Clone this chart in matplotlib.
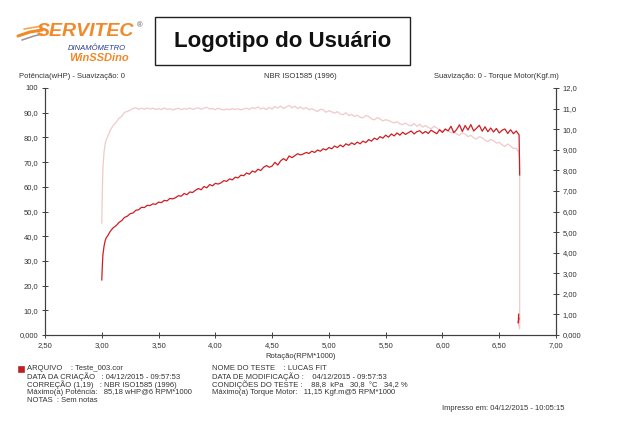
import matplotlib
matplotlib.use("Agg")
import matplotlib.pyplot as plt
import numpy as np

plt.rcParams['font.family'] = ['Liberation Sans', 'DejaVu Sans']

# rotação (RPM*1000)
rpm = [3.000, 3.005, 3.010, 3.020, 3.030, 3.040,
       3.050, 3.075, 3.100, 3.125, 3.150, 3.175, 3.200, 3.225,
       3.250, 3.275, 3.300, 3.325, 3.350, 3.375, 3.400, 3.425,
       3.450, 3.475, 3.500, 3.525, 3.550, 3.575, 3.600, 3.625,
       3.650, 3.675, 3.700, 3.725, 3.750, 3.775, 3.800, 3.825,
       3.850, 3.875, 3.900, 3.925, 3.950, 3.975, 4.000, 4.025,
       4.050, 4.075, 4.100, 4.125, 4.150, 4.175, 4.200, 4.225,
       4.250, 4.275, 4.300, 4.325, 4.350, 4.375, 4.400, 4.425,
       4.450, 4.475, 4.500, 4.525, 4.550, 4.575, 4.600, 4.625,
       4.650, 4.675, 4.700, 4.725, 4.750, 4.775, 4.800, 4.825,
       4.850, 4.875, 4.900, 4.925, 4.950, 4.975, 5.000, 5.025,
       5.050, 5.075, 5.100, 5.125, 5.150, 5.175, 5.200, 5.225,
       5.250, 5.275, 5.300, 5.325, 5.350, 5.375, 5.400, 5.425,
       5.450, 5.475, 5.500, 5.525, 5.550, 5.575, 5.600, 5.625,
       5.650, 5.675, 5.700, 5.725, 5.750, 5.775, 5.800, 5.825,
       5.850, 5.875, 5.900, 5.925, 5.950, 5.975, 6.000, 6.025,
       6.050, 6.075, 6.100, 6.125, 6.150, 6.175, 6.200, 6.225,
       6.250, 6.275, 6.300, 6.325, 6.350, 6.375, 6.400, 6.425,
       6.450, 6.475, 6.500, 6.525, 6.550, 6.575, 6.600, 6.625,
       6.650, 6.675, 6.680]

# potência (wHP)
power = [22.3, 28.0, 32.5, 36.0, 38.2, 39.4,
         40.0, 42.0, 43.4, 44.2, 45.5, 46.3, 47.6, 48.1,
         49.1, 49.4, 50.5, 50.7, 51.7, 51.6, 52.5, 52.4,
         53.1, 52.9, 53.8, 53.6, 54.5, 54.3, 55.3, 55.1,
         55.6, 56.4, 56.2, 57.3, 56.8, 57.9, 57.7, 58.6,
         59.3, 58.8, 60.1, 59.6, 60.9, 60.4, 61.4, 61.1,
         61.6, 62.5, 62.2, 63.2, 62.8, 63.9, 63.6, 64.7,
         64.5, 65.6, 65.1, 66.4, 65.9, 67.1, 66.6, 67.9,
         68.6, 67.9, 68.4, 69.9, 68.8, 70.5, 71.4, 70.6,
         72.5, 71.8, 72.6, 73.4, 72.9, 73.3, 73.9, 73.5,
         74.4, 73.9, 74.9, 74.4, 75.4, 74.9, 75.9, 75.4,
         76.5, 75.9, 76.9, 76.2, 77.4, 76.8, 77.8, 77.1,
         78.1, 77.4, 78.5, 77.9, 79.1, 78.5, 79.7, 79.1,
         80.3, 79.7, 80.9, 80.1, 81.4, 80.6, 81.8, 80.9,
         82.1, 81.2, 81.9, 82.6, 81.4, 82.3, 82.7, 81.6,
         82.4, 81.6, 82.9, 82.2, 81.5, 83.1, 82.0, 83.4,
         82.6, 84.5, 81.9, 83.2, 85.1, 82.4, 84.8, 83.0,
         85.2, 82.6, 83.7, 84.9, 82.5, 84.3, 82.3, 83.8,
         82.2, 83.6, 81.8, 82.9, 83.4, 81.6, 83.1, 81.5,
         82.6, 81.0, 64.8]

# torque motor (Kgf.m)
torque = [5.44, 7.0, 8.1, 8.9, 9.3, 9.5,
          9.6, 9.95, 10.18, 10.32, 10.52, 10.62, 10.82, 10.86,
          10.92, 11.0, 11.04, 10.96, 11.02, 10.97, 11.03, 10.98,
          11.02, 10.96, 11.0, 10.95, 11.03, 10.97, 10.99, 10.94,
          10.98, 11.02, 10.95, 11.0, 10.97, 11.03, 10.96, 11.0,
          11.04, 10.96, 11.02, 11.06, 10.98, 11.0, 10.95, 11.02,
          10.97, 10.93, 10.98, 10.95, 11.0, 10.96, 10.99, 10.94,
          10.98, 11.02, 10.96, 11.05, 11.0, 11.08, 10.98, 11.04,
          10.95, 11.06, 10.98, 11.1, 11.02, 11.12, 11.0, 11.08,
          11.15, 11.04, 11.12, 11.0, 11.08, 10.98, 11.05, 10.94,
          11.0, 10.92, 10.86, 10.97, 10.94, 10.82, 10.9, 10.84,
          10.78, 10.85, 10.74, 10.7, 10.8, 10.66, 10.72, 10.62,
          10.68, 10.58, 10.55, 10.66, 10.62, 10.5, 10.45, 10.56,
          10.5, 10.4, 10.46, 10.42, 10.36, 10.3, 10.36, 10.26,
          10.22, 10.3, 10.2, 10.16, 10.27, 10.14, 10.24, 10.1,
          10.18, 10.08, 10.02, 10.14, 10.06, 9.96, 9.9, 10.0,
          9.94, 9.82, 9.88, 9.76, 9.7, 9.82, 9.76, 9.64,
          9.7, 9.58, 9.52, 9.64, 9.58, 9.46, 9.4, 9.5,
          9.44, 9.32, 9.36, 9.24, 9.16, 9.28, 9.18, 9.06,
          9.08, 8.85, 8.6]

# pedaços soltos no fim do teste
power_tail_rpm = [6.671, 6.668, 6.673]
power_tail = [8.4, 4.9, 6.8]
torque_tail_rpm = [6.680, 6.680, 6.666]
torque_tail = [5.0, 0.3, 0.6]

x_ticks = [2.5, 3.0, 3.5, 4.0, 4.5, 5.0, 5.5, 6.0, 6.5, 7.0]
x_labels = ['2,50', '3,00', '3,50', '4,00', '4,50', '5,00', '5,50', '6,00', '6,50', '7,00']
p_ticks = [0, 10, 20, 30, 40, 50, 60, 70, 80, 90, 100]
p_labels = ['0,000', '10,0', '20,0', '30,0', '40,0', '50,0', '60,0', '70,0', '80,0', '90,0', '100']
t_ticks = [0, 1, 2, 3, 4, 5, 6, 7, 8, 9, 10, 11, 12]
t_labels = ['0,000', '1,00', '2,00', '3,00', '4,00', '5,00', '6,00', '7,00', '8,00', '9,00',
            '10,0', '11,0', '12,0']

W, H = 620, 438
def fx(x): return x / W
def fy(y): return 1 - y / H

fig = plt.figure(figsize=(6.2, 4.38), dpi=100)
ax = fig.add_axes([fx(45), fy(335), fx(556 - 45), (335 - 88) / H])
ax2 = ax.twinx()
ax.set_zorder(ax2.get_zorder() + 1)
ax.patch.set_visible(False)

ax2.plot(rpm + torque_tail_rpm, torque + torque_tail, color='#f1c9cb', lw=0.9)
ax.plot(rpm, power, color='#cf1d22', lw=0.9)
ax.plot(power_tail_rpm, power_tail, color='#cf1d22', lw=0.9)

ax.set_xlim(2.5, 7.0)
ax.set_ylim(0, 100)
ax2.set_ylim(0, 12)
ax.set_xticks(x_ticks, x_labels)
ax.set_yticks(p_ticks, p_labels)
ax2.set_yticks(t_ticks, t_labels)

for a in (ax, ax2):
    for s in a.spines.values():
        s.set_color('#404040')
        s.set_linewidth(0.8)
    a.spines['top'].set_visible(False)
    a.tick_params(direction='inout', length=4, width=0.7, color='#404040',
                  labelsize=5.5, labelcolor='#333333', pad=3)
ax.set_xlabel('Rotação(RPM*1000)', fontsize=5.5, color='#333333', labelpad=3)

small = dict(fontsize=5.5, color='#333333')
fig.text(fx(19), fy(76), 'Potência(wHP) - Suavização: 0', ha='left', va='center', **small)
fig.text(fx(300), fy(76), 'NBR ISO1585 (1996)', ha='center', va='center', **small)
fig.text(fx(559), fy(76), 'Suavização: 0 - Torque Motor(Kgf.m)', ha='right', va='center', **small)

# logo
lg = fig.add_axes([0, 0, 1, 1], zorder=-1)
lg.set_xlim(0, W)
lg.set_ylim(H, 0)
lg.axis('off')
lg.plot([18, 30, 42], [36, 32, 30], color='#f08a24', lw=2.2, solid_capstyle='round')
lg.plot([22, 34, 42], [40, 36, 34], color='#9a9a9a', lw=1.2, solid_capstyle='round')
lg.plot([24, 36, 42], [29, 27, 26], color='#f5a552', lw=1.2, solid_capstyle='round')
lg.text(86, 32, 'SERVITEC', ha='center', va='center', fontsize=14, fontweight='bold',
        style='italic', color='#f0892a')
lg.text(140, 26, '®', ha='center', va='center', fontsize=5.5, color='#555555')
lg.text(97, 48, 'DINAMÔMETRO', ha='center', va='center', fontsize=5.5, style='italic',
        color='#2b3c8f')
lg.text(99, 58, 'WinSSDino', ha='center', va='center', fontsize=8, fontweight='bold',
        style='italic', color='#f0892a')
lg.add_patch(plt.Rectangle((155, 17), 255, 48, fill=False, ec='#222222', lw=1.0))
lg.text(283, 41, 'Logotipo do Usuário', ha='center', va='center', fontsize=16,
        fontweight='bold', color='#111111')

# informações do teste
lg.add_patch(plt.Rectangle((18, 366), 6, 6, fc='#cc1a1a', ec='#882222', lw=0.4))
left_lines = ['ARQUIVO    : Teste_003.cor',
              'DATA DA CRIAÇÃO   : 04/12/2015 - 09:57:53',
              'CORREÇÃO (1,19)   : NBR ISO1585 (1996)',
              'Máximo(a) Potência:   85,18 wHP@6 RPM*1000',
              'NOTAS  : Sem notas']
right_lines = ['NOME DO TESTE    : LUCAS FIT',
               'DATA DE MODIFICAÇÃO :    04/12/2015 - 09:57:53',
               'CONDIÇÕES DO TESTE :    88,8  kPa   30,8  °C   34,2 %',
               'Máximo(a) Torque Motor:   11,15 Kgf.m@5 RPM*1000']
for i, s in enumerate(left_lines):
    lg.text(27, 369 + 8 * i, s, ha='left', va='center', **small)
for i, s in enumerate(right_lines):
    lg.text(212, 369 + 8 * i, s, ha='left', va='center', **small)
lg.text(565, 408, 'Impresso em: 04/12/2015 - 10:05:15', ha='right', va='center', **small)

fig.savefig('out.png', dpi=100)
